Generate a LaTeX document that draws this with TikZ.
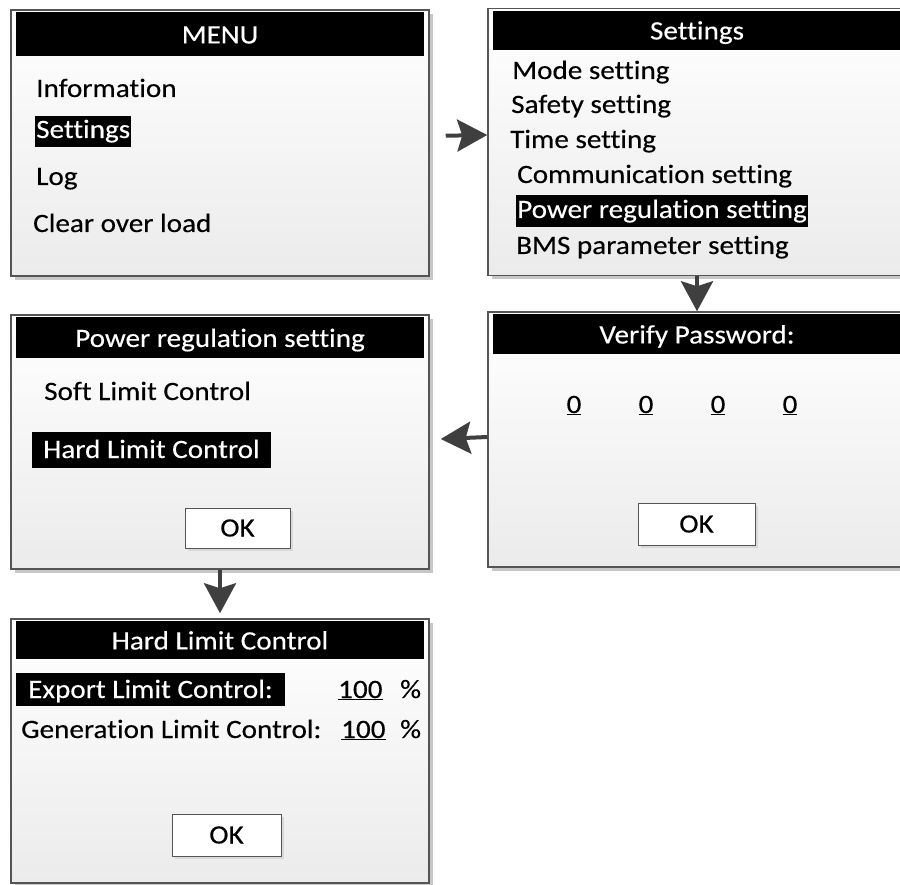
\documentclass[tikz,border=0pt]{standalone}
\usepackage{fontspec}
\setmainfont{Carlito}[FakeStretch=1.1, FakeBold=0.3, Ligatures=NoCommon]
\usepackage{xcolor}
\definecolor{framegray}{HTML}{555555}
\definecolor{arrowgray}{HTML}{3F3F3F}
\definecolor{panelshade}{HTML}{EBEBEB}
\usetikzlibrary{positioning, shadows, arrows.meta}

\newcommand{\lcdfont}{\fontsize{26.5}{30}\selectfont}

\begin{document}
\begin{tikzpicture}[
  x=1pt, y=-1pt,
  panel/.style={draw=framegray, line width=1.5pt, minimum width=418pt, inner sep=0pt, top color=white, bottom color=panelshade, drop shadow={shadow xshift=4pt, shadow yshift=-4pt, fill=black!22, opacity=1}},
  title/.style={fill=black, text=white, minimum width=408pt, minimum height=40pt, inner sep=0pt, text height=18pt, text depth=0pt, font=\lcdfont},
  item/.style={anchor=base west, inner sep=0pt, font=\lcdfont},
  sel/.style={item, fill=black, text=white, inner xsep=1pt, text height=22pt, text depth=9pt},
  okbtn/.style={draw=framegray, line width=1pt, fill=white, minimum width=106pt, minimum height=41pt, inner sep=0pt, font=\lcdfont, drop shadow={shadow xshift=3pt, shadow yshift=-3pt, fill=black!15, opacity=1}},
  arr/.style={-{Stealth[length=30pt, width=32pt, inset=5pt]}, line width=4pt, color=arrowgray},
]
  \useasboundingbox (0,0) rectangle (900,885);
  \clip (0,0) rectangle (900,885);

  % Main menu
  \node[panel, minimum height=266pt] (menu) at (220,143) {};
  \node[title, minimum height=44pt, below=3pt of menu.north] (menutitle) {MENU};
  \node[item] (info) at (36,97) {Information};
  \node[sel] (setsel) at (35,138) {Settings};
  \node[item] (log) at (36,185) {Log};
  \node[item] (clear) at (33,232) {Clear over load};

  % Settings menu
  \node[panel, minimum height=267pt] (settings) at (697,142) {};
  \node[title, minimum height=39pt, below=3pt of settings.north] (settitle) {Settings};
  \node[item] (mode) at (512,79) {Mode setting};
  \node[item] (safety) at (511,113) {Safety setting};
  \node[item] (timeset) at (510,148) {Time setting};
  \node[item] (comm) at (517,183) {Communication setting};
  \node[sel, text height=23pt] (powsel) at (516,218) {Power regulation setting};
  \node[item] (bms) at (516,254) {BMS parameter setting};

  % Password screen
  \node[panel, minimum height=255pt] (verify) at (697,439.5) {};
  \node[title, below=3pt of verify.north] (vertitle) {Verify Password:};
  \foreach \x [count=\i] in {574,646,718,790}
    \node[item, anchor=base] (pw\i) at (\x,413) {\underline{0}};
  \node[okbtn, minimum width=117pt, minimum height=42pt] (okver) at (696.5,524) {OK};

  % Power regulation screen
  \node[panel, minimum height=254pt] (powreg) at (220,442) {};
  \node[title, minimum height=41pt, below=3pt of powreg.north] (prtitle) {Power regulation setting};
  \node[item] (soft) at (44,400) {Soft Limit Control};
  \node[sel, inner xsep=11pt, text height=26pt, text depth=10pt] (hardsel) at (32,458) {Hard Limit Control};
  \node[okbtn, minimum width=105pt, minimum height=40pt] (okpr) at (237.5,528) {OK};

  % Hard limit screen
  \node[panel, minimum height=264pt] (hard) at (220,751) {};
  \node[title, minimum height=38pt, below=3pt of hard.north] (hardtitle) {Hard Limit Control};
  \node[sel, inner xsep=12pt, text height=25pt, text depth=8pt] (export) at (16,698) {Export Limit Control:};
  \node[item] (expval) at (338,698) {\underline{100}};
  \node[item] (exppct) at (400,698) {\%};
  \node[item] (gen) at (21,738) {Generation Limit Control:};
  \node[item] (genval) at (341,738) {\underline{100}};
  \node[item] (genpct) at (400,738) {\%};
  \node[okbtn, minimum width=109pt, minimum height=42pt] (okhard) at (226.5,835) {OK};

  % Arrows
  \draw[arr, shorten <=16pt] ([yshift=7pt]menu.east) -- ([yshift=7pt]settings.west);
  \draw[arr] (settings.south) -- (verify.north);
  \draw[arr, shorten >=11pt] ([yshift=2.5pt]verify.west) -- ([yshift=2.5pt]powreg.east);
  \draw[arr, shorten >=5pt] (powreg.south) -- (hard.north);
\end{tikzpicture}
\end{document}
